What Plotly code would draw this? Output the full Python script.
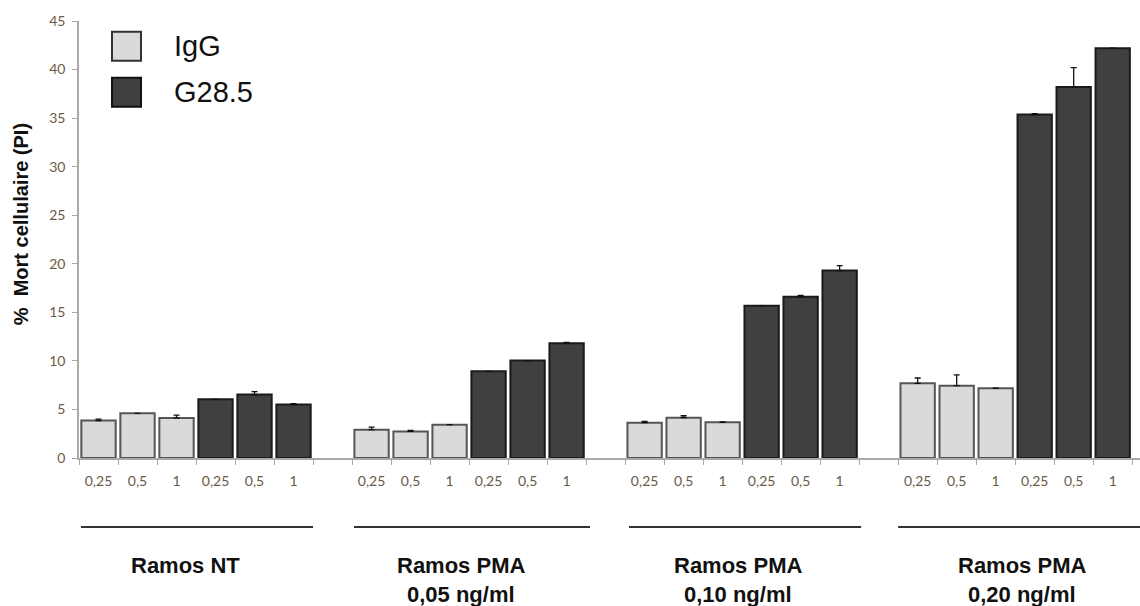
import plotly.graph_objects as go

# Cell lines / treatments and antibody doses (µg/ml)
groups = ["Ramos NT", "Ramos PMA", "Ramos PMA", "Ramos PMA"]
group_sub = ["", "0,05 ng/ml", "0,10 ng/ml", "0,20 ng/ml"]
doses = ["0,25", "0,5", "1"]

# % cell death (PI), mean and upper error per group x dose
igg_mean = [3.85, 4.6, 4.12, 2.92, 2.74, 3.43, 3.64, 4.15, 3.67, 7.69, 7.45, 7.18]
igg_err = [0.15, 0.0, 0.3, 0.25, 0.1, 0.0, 0.12, 0.2, 0.05, 0.55, 1.1, 0.0]
g285_mean = [6.04, 6.53, 5.5, 8.93, 10.03, 11.81, 15.67, 16.6, 19.3, 35.36, 38.2, 42.2]
g285_err = [0.0, 0.3, 0.1, 0.0, 0.0, 0.1, 0.0, 0.15, 0.5, 0.1, 2.0, 0.0]

y_ticks = [0, 5, 10, 15, 20, 25, 30, 35, 40, 45]

# Slot layout: each group holds 3 IgG + 3 G28.5 bars, followed by one empty slot
n_dose = len(doses)
slots_per_group = 2 * n_dose + 1
igg_x = [g * slots_per_group + d for g in range(len(groups)) for d in range(n_dose)]
g285_x = [g * slots_per_group + n_dose + d for g in range(len(groups)) for d in range(n_dose)]
last_slot = (len(groups) - 1) * slots_per_group + 2 * n_dose - 1

LIGHT = "#dadada"
DARK = "#404040"
AXIS = "#a9a9a9"
TICKFONT = dict(family="Lato, Open Sans, sans-serif", size=14, color="#6b5a48")

fig = go.Figure()
fig.add_trace(go.Bar(
    x=igg_x, y=igg_mean, name="IgG", width=0.88,
    marker=dict(color=LIGHT, line=dict(color="#555555", width=2)),
    error_y=dict(type="data", symmetric=False, array=igg_err,
                 arrayminus=[0] * len(igg_err), color="#111111", thickness=1.3, width=3),
))
fig.add_trace(go.Bar(
    x=g285_x, y=g285_mean, name="G28.5", width=0.88,
    marker=dict(color=DARK, line=dict(color="#1a1a1a", width=2)),
    error_y=dict(type="data", symmetric=False, array=g285_err,
                 arrayminus=[0] * len(g285_err), color="#111111", thickness=1.3, width=3),
))

fig.update_layout(
    width=1140, height=606,
    margin=dict(l=79, r=0, t=21, b=148),
    paper_bgcolor="white", plot_bgcolor="white",
    showlegend=False, barmode="overlay",
    font=dict(family="Liberation Sans, Arial, sans-serif", color="#111111"),
)

fig.update_xaxes(
    range=[-0.5, last_slot + 0.7],
    tickmode="array", tickvals=igg_x + g285_x,
    ticktext=doses * len(groups) + doses * len(groups),
    ticks="", ticklabelstandoff=9, tickfont=TICKFONT,
    showline=True, linecolor=AXIS, linewidth=1.5,
    showgrid=False, zeroline=False,
    minor=dict(tick0=-0.5, dtick=1, ticks="outside", ticklen=5,
               tickcolor=AXIS, tickwidth=1.2, showgrid=False),
)
fig.update_yaxes(
    range=[0, 45], tickmode="array", tickvals=y_ticks,
    ticks="outside", ticklen=5, tickcolor=AXIS, tickwidth=1.2,
    tickfont=TICKFONT, ticklabelstandoff=4,
    showline=True, linecolor=AXIS, linewidth=1.5,
    showgrid=False, zeroline=False,
)

# Y-axis title
fig.add_annotation(
    text="<b>%  Mort cellulaire (PI)</b>", textangle=-90,
    xref="paper", yref="paper", x=-58 / 1061, y=0.535,
    xanchor="center", yanchor="middle", showarrow=False,
    font=dict(size=20, family="Liberation Sans, Arial, sans-serif", color="#111111"),
)

# Group brackets and labels below the dose ticks
line_span = [(-0.45, 5.5), (6.55, 12.6), (13.6, 19.55), (20.5, last_slot + 0.7)]
label_x = [2.22, 9.29, 16.4, 23.68]
for g, name in enumerate(groups):
    x0, x1 = line_span[g]
    fig.add_shape(type="line", xref="x", yref="paper", x0=x0, x1=x1,
                  y0=-0.158, y1=-0.158, line=dict(color="#333333", width=2))
    fig.add_annotation(text="<b>%s</b>" % name, xref="x", yref="paper",
                       x=label_x[g], y=-0.245, xanchor="center", yanchor="middle",
                       showarrow=False, font=dict(size=22, color="#111111"))
    if group_sub[g]:
        fig.add_annotation(text="<b>%s</b>" % group_sub[g], xref="x", yref="paper",
                           x=label_x[g], y=-0.312, xanchor="center", yanchor="middle",
                           showarrow=False, font=dict(size=22, color="#111111"))

# Legend drawn as swatches with text
legend_items = [("IgG", LIGHT, "#333333"), ("G28.5", DARK, "#111111")]
for i, (label, fill, edge) in enumerate(legend_items):
    top = 10.7 + i * 46
    fig.add_shape(type="rect", xref="paper", yref="paper",
                  x0=(112 - 79) / 1061, x1=(141 - 79) / 1061,
                  y0=(585 - 148 - top) / 437, y1=(585 - 148 - top - 29) / 437,
                  fillcolor=fill, line=dict(color=edge, width=2))
    fig.add_annotation(text=label, xref="paper", yref="paper",
                       x=(172 - 79) / 1061, y=(585 - 148 - top - 14.5) / 437,
                       xanchor="left", yanchor="middle", showarrow=False,
                       font=dict(size=29, color="#111111"))

fig.write_html("out.html")
